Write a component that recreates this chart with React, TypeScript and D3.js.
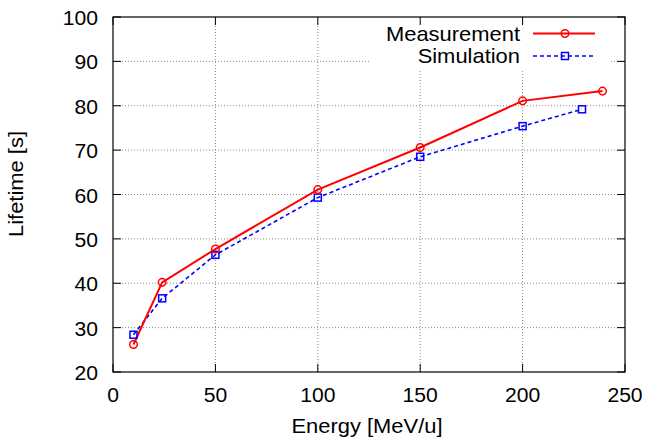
import React from "react";
import * as d3 from "d3";

const energyMeas = [10, 24, 50, 100, 150, 200, 239];
const lifetimeMeas = [26.2, 40.2, 47.7, 61.1, 70.6, 81.1, 83.3];
const energySim = [10, 24, 50, 100, 150, 200, 229];
const lifetimeSim = [28.4, 36.6, 46.4, 59.3, 68.5, 75.4, 79.2];
const xTicks = [0, 50, 100, 150, 200, 250];
const yTicks = [20, 30, 40, 50, 60, 70, 80, 90, 100];

const W = 648, H = 442;
const M = { left: 113, right: 23, top: 17, bottom: 70 };
const FONT = "'Liberation Sans', Arial, sans-serif";
const FS = 20.5;

function T(props: { x: number; y: number; anchor: "start" | "middle" | "end"; sx?: number; rot?: number; children: React.ReactNode }) {
  const { x, y, anchor, sx = 1.07, rot = 0, children } = props;
  return (
    <g transform={`translate(${x},${y}) rotate(${rot}) scale(${sx},1)`}>
      <text x={0} y={0} textAnchor={anchor} fontSize={FS} fill="#000">{children}</text>
    </g>
  );
}

export default function App() {
  const x = d3.scaleLinear().domain([0, 250]).range([M.left, W - M.right]);
  const y = d3.scaleLinear().domain([20, 100]).range([H - M.bottom, M.top]);
  const measPts: [number, number][] = energyMeas.map((e, i) => [e, lifetimeMeas[i]]);
  const simPts: [number, number][] = energySim.map((e, i) => [e, lifetimeSim[i]]);
  const line = d3.line<[number, number]>().x(d => x(d[0])).y(d => y(d[1]));
  const x0 = x(0), x1 = x(250), y0 = y(20), y1 = y(100);
  const tick = 8;
  const legend = { x0: 370, x1: 609, y0: y1, y1: 68 };

  return (
    <svg width={W} height={H} style={{ position: "absolute", left: 0, top: 0, background: "#fff" }} fontFamily={FONT}>
      <rect width={W} height={H} fill="#fff" />
      {/* grid */}
      <g stroke="#888" strokeWidth={1} strokeDasharray="1,2">
        {xTicks.slice(1, -1).map(t => (
          <line key={"gx" + t} x1={x(t)} x2={x(t)} y1={y0} y2={y1} />
        ))}
        {yTicks.slice(1, -1).map(t => (
          <line key={"gy" + t} x1={x0} x2={x1} y1={y(t)} y2={y(t)} />
        ))}
      </g>
      {/* legend background */}
      <rect x={legend.x0} y={legend.y0 + 1} width={legend.x1 - legend.x0} height={legend.y1 - legend.y0} fill="#fff" />
      {/* ticks */}
      <g stroke="#000" strokeWidth={1}>
        {xTicks.map(t => (
          <g key={"tx" + t}>
            <line x1={x(t)} x2={x(t)} y1={y0} y2={y0 - tick} />
            <line x1={x(t)} x2={x(t)} y1={y1} y2={y1 + tick} />
          </g>
        ))}
        {yTicks.map(t => (
          <g key={"ty" + t}>
            <line x1={x0} x2={x0 + tick} y1={y(t)} y2={y(t)} />
            <line x1={x1} x2={x1 - tick} y1={y(t)} y2={y(t)} />
          </g>
        ))}
      </g>
      <rect x={x0} y={y1} width={x1 - x0} height={y0 - y1} fill="none" stroke="#000" strokeWidth={1.2} />
      {/* tick labels */}
      {xTicks.map(t => (
        <T key={"lx" + t} x={x(t)} y={y0 + 30} anchor="middle" sx={1.03}>{t}</T>
      ))}
      {yTicks.map(t => (
        <T key={"ly" + t} x={x0 - 15} y={y(t) + 8} anchor="end" sx={1.03}>{t}</T>
      ))}
      <T x={367} y={433} anchor="middle">Energy [MeV/u]</T>
      <T x={23} y={184} anchor="middle" rot={-90}>Lifetime [s]</T>
      {/* series */}
      <path d={line(simPts) || ""} fill="none" stroke="#0000ff" strokeWidth={1.6} strokeDasharray="4,3" />
      <path d={line(measPts) || ""} fill="none" stroke="#ff0000" strokeWidth={2} />
      {simPts.map((p, i) => (
        <rect key={"s" + i} x={x(p[0]) - 3.5} y={y(p[1]) - 3.5} width={7} height={7} fill="none" stroke="#0000ff" strokeWidth={1.5} />
      ))}
      {measPts.map((p, i) => (
        <circle key={"m" + i} cx={x(p[0])} cy={y(p[1])} r={3.8} fill="none" stroke="#ff0000" strokeWidth={1.5} />
      ))}
      {/* legend */}
      <T x={520} y={41} anchor="end">Measurement</T>
      <line x1={533} x2={595} y1={33.5} y2={33.5} stroke="#ff0000" strokeWidth={2} />
      <circle cx={565} cy={33.5} r={3.8} fill="none" stroke="#ff0000" strokeWidth={1.5} />
      <T x={520} y={63} anchor="end">Simulation</T>
      <line x1={533} x2={595} y1={56} y2={56} stroke="#0000ff" strokeWidth={1.6} strokeDasharray="4,3" />
      <rect x={561.5} y={52.5} width={7} height={7} fill="none" stroke="#0000ff" strokeWidth={1.5} />
    </svg>
  );
}
